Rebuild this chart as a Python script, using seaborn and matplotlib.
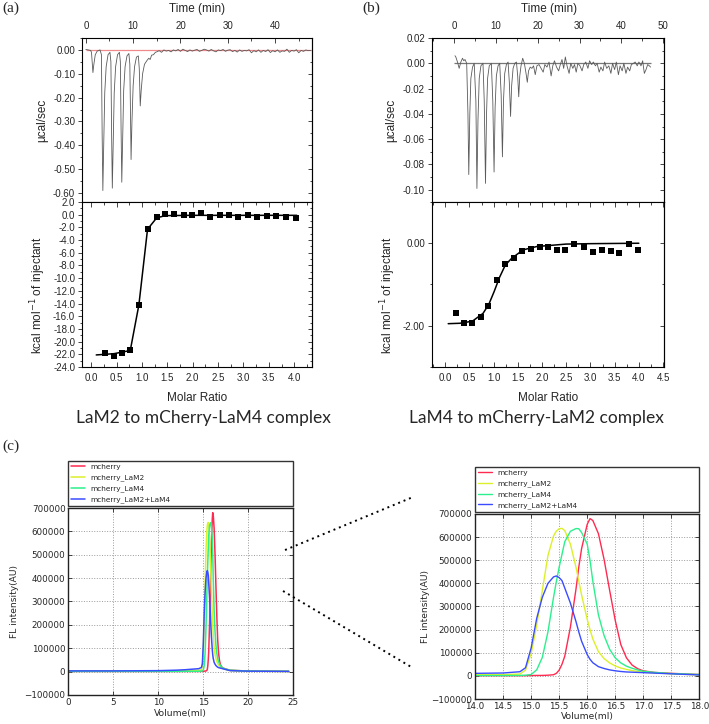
import numpy as np
import pandas as pd
import matplotlib
matplotlib.use('Agg')
import matplotlib.pyplot as plt
import seaborn as sns
from matplotlib.ticker import MultipleLocator, FixedLocator, FuncFormatter
from matplotlib.lines import Line2D

sns.set_style('ticks')
plt.rcParams['font.family'] = ['Liberation Sans', 'DejaVu Sans']

# ---------------- ITC (a): raw thermogram ----------------
time_a = [0.0, 0.5, 1.0, 1.2, 1.5, 1.7, 2.0, 2.4, 3.0, 3.3, 3.45, 3.6, 3.8, 4.0, 4.3, 4.7,
          5.1, 5.3, 5.45, 5.6, 5.8, 6.0, 6.3, 6.7, 7.1, 7.3, 7.45, 7.6, 7.8, 8.0, 8.3, 8.7,
          9.1, 9.3, 9.45, 9.56, 9.75, 10.0, 10.3, 10.7, 11.1, 11.3, 11.5, 11.7, 12.0, 12.4,
          12.9, 13.3, 13.6, 13.9, 14.3, 14.7, 15.0, 15.5, 16.0, 16.5, 17.0, 17.5, 18.0, 18.5,
          19.0, 19.5, 20.0, 20.5, 21.0, 21.5, 22.0, 22.5, 23.0, 23.5, 24.0, 24.5, 25.0, 25.5,
          26.0, 26.5, 27.0, 27.5, 28.0, 28.5, 29.0, 29.5, 30.0, 30.5, 31.0, 31.5, 32.0, 32.5,
          33.0, 33.5, 34.0, 34.5, 35.0, 35.5, 36.0, 36.5, 37.0, 37.5, 38.0, 38.5, 39.0, 39.5,
          40.0, 40.5, 41.0, 41.5, 42.0, 42.5, 43.0, 43.5, 44.0, 44.5, 45.0, 45.5, 46.0, 46.5,
          47.0, 47.5]
heat_a = [0.002, 0.0, -0.002, -0.01, -0.095, -0.06, -0.02, -0.005, 0.0, -0.02, -0.35, -0.59,
          -0.38, -0.18, -0.07, -0.02, -0.01, -0.05, -0.35, -0.58, -0.38, -0.18, -0.07, -0.02,
          -0.01, -0.05, -0.33, -0.555, -0.36, -0.17, -0.07, -0.025, -0.015, -0.06, -0.28, -0.46,
          -0.30, -0.15, -0.07, -0.03, -0.025, -0.08, -0.235, -0.17, -0.10, -0.06, -0.045, -0.035,
          -0.04, -0.022, -0.02, -0.01, -0.008, -0.003, -0.01, 0.0, -0.005, -0.002, -0.008, 0.0,
          -0.004, 0.002, -0.006, 0.003, -0.002, -0.007, 0.0, -0.005, -0.001, 0.002, -0.006,
          -0.002, 0.003, 0.0, -0.005, 0.002, -0.004, -0.008, 0.0, -0.003, 0.002, -0.006, -0.001,
          0.001, -0.007, -0.002, -0.009, 0.0, -0.006, -0.002, -0.004, 0.001, -0.012, -0.003,
          -0.008, 0.0, -0.010, -0.002, -0.007, 0.001, -0.011, -0.003, -0.008, 0.0, -0.010,
          -0.004, -0.006, 0.003, -0.010, -0.002, -0.005, 0.001, -0.012, -0.002, -0.006, 0.0,
          -0.003, -0.002]

# ---------------- ITC (a): integrated heats ----------------
ratio_a = [0.28, 0.45, 0.61, 0.77, 0.94, 1.11, 1.29, 1.46, 1.64, 1.82, 1.99, 2.17, 2.35,
           2.53, 2.71, 2.89, 3.08, 3.27, 3.46, 3.64, 3.83, 4.03]
dh_a = [-21.8, -22.3, -21.8, -21.3, -14.3, -2.3, -0.4, 0.05, 0.15, 0.0, 0.0, 0.25, -0.4,
        0.0, 0.0, -0.3, 0.0, -0.4, -0.15, -0.15, -0.4, -0.5]
fit_ratio_a = [0.10, 0.45, 0.77, 0.94, 1.11, 1.29, 1.46, 2.0, 3.0, 4.05]
fit_dh_a = [-22.1, -21.9, -21.4, -14.2, -2.3, -0.5, -0.15, -0.1, -0.1, -0.1]

# ---------------- ITC (b): raw thermogram ----------------
time_b = [0.2, 0.4, 0.8, 1.2, 1.6, 2.0, 2.3, 2.6, 3.0, 3.3, 3.5, 3.75, 4.0, 4.4, 4.8, 5.2,
          5.45, 5.7, 6.0, 6.4, 6.9, 7.2, 7.5, 7.75, 8.0, 8.4, 8.9, 9.25, 9.55, 9.8, 10.1, 10.5,
          10.9, 11.25, 11.55, 11.8, 12.1, 12.5, 12.9, 13.2, 13.5, 13.75, 14.1, 14.5, 14.9,
          15.2, 15.45, 15.7, 16.0, 16.4, 16.8, 17.2, 17.5, 17.8, 18.2, 18.6, 19.0, 19.4, 19.8,
          20.3, 20.8, 21.3, 21.7, 22.2, 22.7, 23.2, 23.6, 24.0, 24.5, 25.0, 25.4, 25.8, 26.2,
          26.6, 27.0, 27.5, 27.9, 28.4, 28.8, 29.2, 29.6, 30.1, 30.6, 31.0, 31.5, 32.0, 32.4,
          32.9, 33.3, 33.8, 34.2, 34.7, 35.1, 35.6, 36.0, 36.5, 37.0, 37.5, 37.9, 38.4, 38.8,
          39.3, 39.7, 40.2, 40.6, 41.1, 41.5, 42.0, 42.4, 42.9, 43.3, 43.8, 44.2, 44.7, 45.1,
          45.5, 45.9, 46.3, 46.7, 47.0]
heat_b = [0.006, 0.005, 0.001, -0.004, 0.001, 0.004, 0.002, 0.003, 0.0, -0.04, -0.088,
          -0.04, -0.012, -0.003, 0.0, -0.03, -0.099, -0.045, -0.012, -0.002, 0.0, -0.03,
          -0.095, -0.04, -0.012, -0.002, 0.0, -0.03, -0.086, -0.035, -0.010, -0.002, 0.0,
          -0.025, -0.074, -0.03, -0.008, -0.001, 0.001, -0.015, -0.042, -0.018, -0.004, 0.0,
          0.001, -0.010, -0.0265, -0.010, -0.002, 0.004, 0.0, -0.008, -0.015, -0.006, -0.003,
          -0.004, -0.002, -0.009, -0.002, -0.001, -0.004, -0.007, -0.001, -0.003, 0.001,
          -0.010, -0.002, 0.002, -0.003, -0.006, -0.001, 0.003, -0.004, 0.005, -0.002, -0.008,
          0.0, -0.004, -0.001, -0.007, 0.0, -0.002, -0.006, -0.001, 0.001, -0.004, 0.002,
          -0.001, 0.001, -0.002, 0.0, -0.007, -0.003, -0.006, 0.001, -0.004, -0.002, -0.008,
          0.0, -0.005, 0.001, -0.009, -0.002, -0.006, 0.0, -0.008, -0.003, -0.006, -0.001,
          0.0, 0.001, -0.002, 0.001, -0.002, 0.002, -0.008, -0.005, -0.001, -0.002, -0.003]

# ---------------- ITC (b): integrated heats ----------------
ratio_b = [0.22, 0.39, 0.56, 0.73, 0.89, 1.06, 1.24, 1.41, 1.58, 1.77, 1.95, 2.13, 2.31,
           2.48, 2.67, 2.86, 3.05, 3.23, 3.42, 3.60, 3.79, 3.99]
dh_b = [-1.69, -1.93, -1.93, -1.79, -1.51, -0.89, -0.50, -0.36, -0.19, -0.14, -0.08, -0.08,
        -0.17, -0.17, -0.02, -0.10, -0.22, -0.16, -0.19, -0.23, -0.01, -0.16]
fit_ratio_b = [0.06, 0.30, 0.56, 0.78, 0.90, 1.01, 1.12, 1.24, 1.36, 1.47, 1.61, 1.89, 2.5, 3.0, 4.0]
fit_dh_b = [-1.95, -1.94, -1.89, -1.70, -1.48, -1.17, -0.83, -0.53, -0.38, -0.28, -0.16,
            -0.08, -0.02, -0.01, 0.0]

titles_itc = ['LaM2 to mCherry-LaM4 complex', 'LaM4 to mCherry-LaM2 complex']

# ---------------- SEC (c) ----------------
volume = [0, 5, 10, 12, 13, 14.0, 14.5, 14.8, 14.9, 15.0, 15.1, 15.2, 15.3, 15.4, 15.45, 15.5,
          15.55, 15.6, 15.7, 15.8, 15.85, 15.9, 16.0, 16.05, 16.1, 16.2, 16.3, 16.4, 16.5,
          16.6, 16.7, 16.8, 16.9, 17.0, 17.2, 17.5, 18.0, 20.0, 24.5]
fl_mcherry = [1000, 1000, 1000, 1000, 1000, 1000, 1000, 1000, 1000, 1500, 2000, 2000, 3000,
              5000, 11000, 25000, 50000, 85000, 210000, 375000, 470000, 550000, 655000, 680000,
              672000, 615000, 505000, 370000, 240000, 135000, 78000, 47000, 31000, 22000,
              15000, 11000, 6000, 2000, 1000]
fl_lam2 = [2000, 2000, 2500, 3000, 4000, 5000, 5500, 8000, 25000, 95000, 220000, 370000,
           520000, 605000, 626000, 636000, 638000, 628000, 570000, 470000, 410000, 350000,
           245000, 200000, 160000, 105000, 75000, 56000, 43000, 34000, 28000, 23000, 19000,
           16000, 13000, 9000, 4000, 2000, 1000]
fl_lam4 = [1000, 1000, 1000, 1000, 1200, 1500, 1500, 2000, 3000, 6000, 26000, 80000, 190000,
           340000, 408000, 470000, 525000, 580000, 625000, 637000, 636000, 620000, 570000,
           500000, 410000, 264000, 175000, 115000, 78000, 56000, 42000, 33000, 26000, 20000,
           15000, 10000, 6000, 2000, 1000]
fl_lam24 = [3000, 3000, 4000, 6000, 8000, 11000, 12500, 18000, 35000, 120000, 249000, 340000,
            400000, 428000, 432000, 425000, 412000, 380000, 315000, 235000, 190000, 150000,
            92000, 72000, 57000, 40000, 32000, 26000, 22000, 19000, 17000, 16000, 15000,
            14000, 12000, 9000, 4000, 2000, 1000]
samples = ['mcherry', 'mcherry_LaM2', 'mcherry_LaM4', 'mcherry_LaM2+LaM4']
sample_colors = ['#ff2a50', '#dcf02a', '#2cf08c', '#3a4cff']

sec = pd.concat([pd.DataFrame({'Volume': volume, 'FL': v, 'Sample': s})
                 for s, v in zip(samples, [fl_mcherry, fl_lam2, fl_lam4, fl_lam24])],
                ignore_index=True)

fig = plt.figure(figsize=(7.09, 7.24), dpi=100)

TICK_FS = 7


def fmt_fixed(nd):
    def f(v, pos):
        s = ('%.' + str(nd) + 'f') % v
        if float(s) == 0:
            s = s.lstrip('-')
        return s
    return FuncFormatter(f)


def style_itc(ax, upper):
    for s in ax.spines.values():
        s.set_linewidth(0.8)
        s.set_color('black')
        s.set_visible(True)
    ax.tick_params(axis='y', which='both', direction='out', left=True, right=False,
                   labelsize=TICK_FS, width=0.6, pad=2)
    ax.tick_params(axis='y', which='major', length=3)
    ax.tick_params(axis='y', which='minor', length=1.8)
    if upper:
        ax.tick_params(axis='x', which='both', direction='in', top=True, bottom=False,
                       labeltop=True, labelbottom=False, labelsize=TICK_FS, width=0.6, pad=5)
    else:
        ax.tick_params(axis='x', which='both', direction='in', top=True, bottom=True,
                       labeltop=False, labelbottom=True, labelsize=TICK_FS, width=0.6, pad=4)
    ax.tick_params(axis='x', which='major', length=3.5)
    ax.tick_params(axis='x', which='minor', length=2)
    ax.set_facecolor('white')


def right_ticks(ax, major, minor):
    sa = ax.secondary_yaxis('right')
    sa.yaxis.set_major_locator(major)
    sa.yaxis.set_minor_locator(minor)
    sa.tick_params(which='both', direction='in', labelright=False, width=0.6)
    sa.tick_params(which='major', length=3)
    sa.tick_params(which='minor', length=1.8)
    sa.spines['right'].set_linewidth(0.8)


itc_sets = [
    dict(left=0.1157, width=0.3244, time=time_a, heat=heat_a, ratio=ratio_a, dh=dh_a,
         fr=fit_ratio_a, fd=fit_dh_a, txlim=(-0.8, 47.8), tylim=(-0.638, 0.05),
         tymaj=0.10, tymin=0.05, base_col='#f08a8a', base_end=47.8,
         rxlim=(-0.18, 4.35), rylim=(-24, 2), rymaj=None, rymin=1.0, rynd=1,
         title=titles_itc[0], label='(a)', lab_x=0.003, title_x=0.2863, time_x=0.2774),
    dict(left=0.6093, width=0.3272, time=time_b, heat=heat_b, ratio=ratio_b, dh=dh_b,
         fr=fit_ratio_b, fd=fit_dh_b, txlim=(-5.3, 50.2), tylim=(-0.1097, 0.02),
         tymaj=0.02, tymin=0.01, base_col='#777777', base_end=47.2,
         rxlim=(-0.275, 4.52), rylim=(-3, 1), rymaj='b', rymin=1.0, rynd=2,
         title=titles_itc[1], label='(b)', lab_x=0.511, title_x=0.756, time_x=0.7743),
]

for p in itc_sets:
    axu = fig.add_axes([p['left'], 0.7210, p['width'], 0.2265])
    axl = fig.add_axes([p['left'], 0.4931, p['width'], 0.2279])

    # raw heat trace
    axu.hlines(0, 0, p['base_end'], color=p['base_col'], lw=0.9, zorder=1)
    sns.lineplot(x=p['time'], y=p['heat'], ax=axu, color='#5a5a5a', lw=0.6,
                 sort=False, estimator=None, zorder=2)
    axu.set_xlim(*p['txlim'])
    axu.set_ylim(*p['tylim'])
    axu.xaxis.set_major_locator(MultipleLocator(10))
    axu.xaxis.set_minor_locator(MultipleLocator(5))
    axu.yaxis.set_major_locator(MultipleLocator(p['tymaj']))
    axu.yaxis.set_minor_locator(MultipleLocator(p['tymin']))
    axu.yaxis.set_major_formatter(fmt_fixed(2))
    axu.xaxis.set_major_formatter(fmt_fixed(0))
    style_itc(axu, True)
    right_ticks(axu, MultipleLocator(p['tymaj']), MultipleLocator(p['tymin']))
    axu.set_xlabel('')
    fig.text(p['time_x'], 0.988, 'Time (min)', ha='center', va='center', fontsize=8.5)
    axu.set_ylabel('\u00b5cal/sec', fontsize=8.5, va='center')
    axu.yaxis.set_label_coords(-0.175, 0.5)

    # integrated heats
    sns.lineplot(x=p['fr'], y=p['fd'], ax=axl, color='black', lw=1.1, sort=False,
                 estimator=None, zorder=2)
    sns.scatterplot(x=p['ratio'], y=p['dh'], ax=axl, color='black', marker='s', s=16,
                    edgecolor='black', linewidth=0, zorder=3)
    axl.set_xlim(*p['rxlim'])
    axl.set_ylim(*p['rylim'])
    axl.xaxis.set_major_locator(MultipleLocator(0.5))
    axl.xaxis.set_minor_locator(MultipleLocator(0.25))
    axl.xaxis.set_major_formatter(fmt_fixed(1))
    if p['rymaj'] is None:
        ymaj = MultipleLocator(2.0)
        ymaj2 = MultipleLocator(2.0)
    else:
        ymaj = FixedLocator([-2.0, 0.0])
        ymaj2 = FixedLocator([-2.0, 0.0])
    axl.yaxis.set_major_locator(ymaj)
    axl.yaxis.set_minor_locator(MultipleLocator(p['rymin']))
    axl.yaxis.set_major_formatter(fmt_fixed(p['rynd']))
    style_itc(axl, False)
    right_ticks(axl, ymaj2, MultipleLocator(p['rymin']))
    axl.set_xlabel('Molar Ratio', fontsize=8.5, va='center')
    axl.xaxis.set_label_coords(0.5, -0.19)
    axl.set_ylabel('kcal mol$^{-1}$ of injectant', fontsize=8.5, va='center')
    axl.yaxis.set_label_coords(-0.19, 0.436)

    fig.text(p['title_x'], 0.4227, p['title'], ha='center', va='center', fontsize=12.5,
             family=['Lato', 'DejaVu Sans'])
    fig.text(p['lab_x'], 0.989, p['label'], ha='left', va='center', fontsize=11,
             family=['Liberation Serif', 'DejaVu Serif'])

fig.text(0.003, 0.383, '(c)', ha='left', va='center', fontsize=11,
         family=['Liberation Serif', 'DejaVu Serif'])

# ---------------- SEC panels ----------------
sec_sets = [
    dict(rect=[0.0963, 0.0401, 0.3174, 0.2582], xlim=(0, 25), xmaj=5, xnd=0,
         ylab_x=-0.237, xlab_y=-0.10, lw=1.1),
    dict(rect=[0.6700, 0.0345, 0.3164, 0.2556], xlim=(14, 18), xmaj=0.5, xnd=1,
         ylab_x=-0.223, xlab_y=-0.097, lw=1.0),
]
for q in sec_sets:
    ax = fig.add_axes(q['rect'])
    sns.lineplot(data=sec, x='Volume', y='FL', hue='Sample', hue_order=samples,
                 palette=sample_colors, ax=ax, lw=q['lw'], estimator=None)
    ax.set_xlim(*q['xlim'])
    ax.set_ylim(-100000, 700000)
    ax.xaxis.set_major_locator(MultipleLocator(q['xmaj']))
    ax.xaxis.set_major_formatter(fmt_fixed(q['xnd']))
    ax.yaxis.set_major_locator(MultipleLocator(100000))
    ax.ticklabel_format(axis='y', style='plain', useOffset=False)
    ax.grid(True, linestyle=':', color='#9a9a9a', linewidth=0.7)
    for s in ax.spines.values():
        s.set_visible(True)
        s.set_linewidth(1.0)
        s.set_color('#222222')
    ax.tick_params(which='both', direction='in', top=True, right=True, labelsize=6.3,
                   length=3, width=0.6, pad=2)
    ax.set_xlabel('Volume(ml)', fontsize=6.6, family=['DejaVu Sans'], va='center')
    ax.xaxis.set_label_coords(0.5, q['xlab_y'])
    ax.set_ylabel('FL intensity(AU)', fontsize=6.6, family=['DejaVu Sans'], va='center')
    ax.yaxis.set_label_coords(q['ylab_x'], 0.5)
    for lab in ax.get_xticklabels() + ax.get_yticklabels():
        lab.set_family(['DejaVu Sans'])
    sns.move_legend(ax, 'lower left', bbox_to_anchor=(0, 1.012, 1, 0.2), mode='expand',
                    title=None, frameon=True, fancybox=False,
                    borderaxespad=0, handlelength=1.9, handletextpad=0.7,
                    labelspacing=0.55, edgecolor='#333333', framealpha=1,
                    prop={'family': 'DejaVu Sans', 'size': 5.3})
    leg = ax.get_legend()
    leg.get_frame().set_linewidth(1.0)

# dotted connectors between the two chromatograms
for (x0, y0, x1, y1) in [(0.402, 0.2403, 0.5825, 0.3135), (0.3992, 0.1837, 0.5825, 0.0773)]:
    fig.add_artist(Line2D([x0, x1], [y0, y1], transform=fig.transFigure, color='black',
                          lw=1.4, linestyle=(0, (1, 2))))

fig.savefig('out.png', dpi=100, facecolor='white')
